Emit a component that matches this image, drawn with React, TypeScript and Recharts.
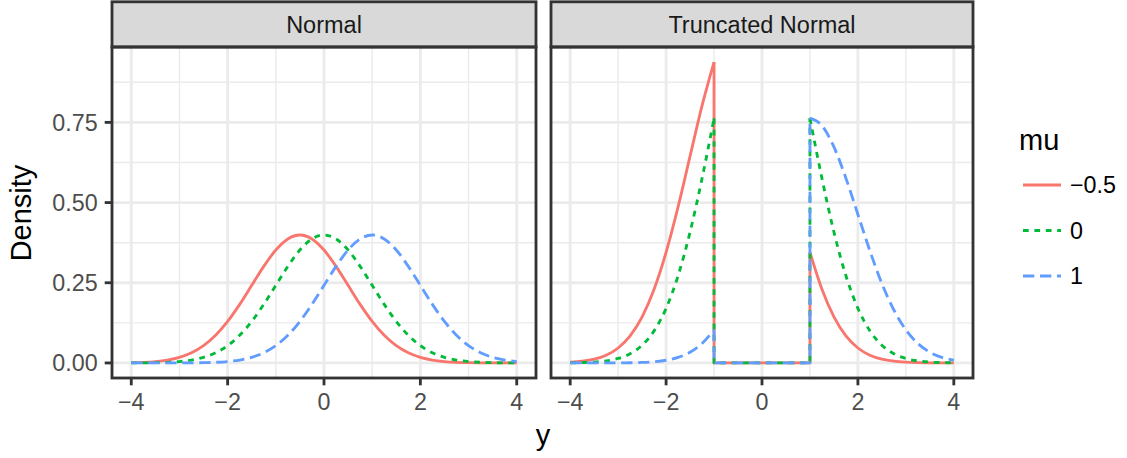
import React from 'react';
import { LineChart, Line, XAxis, YAxis, CartesianGrid } from 'recharts';

const FONT = '"Liberation Sans", Arial, Helvetica, sans-serif';

// ---- categories / labels ----
const muLevels = ['\u22120.5', '0', '1'];
const seriesColors = ['#F8766D', '#00BA38', '#619CFF'];
const seriesDash: (string | undefined)[] = [undefined, '5.7 5.7', '11.3 5.7'];
const facetTitles = ['Normal', 'Truncated Normal'];
const xMajorTicks = [-4, -2, 0, 2, 4];
const xMinorTicks = [-3, -1, 1, 3];
const yMajorTicks = [0, 0.25, 0.5, 0.75];
const yMinorTicks = [0.125, 0.375, 0.625, 0.875];

// ---- Normal panel ----
const xNormal = [-4, -3.75, -3.5, -3.25, -3, -2.75, -2.5, -2.25, -2, -1.75, -1.5, -1.25, -1, -0.75, -0.5, -0.25, 0,
  0.25, 0.5, 0.75, 1, 1.25, 1.5, 1.75, 2, 2.25, 2.5, 2.75, 3, 3.25, 3.5, 3.75, 4];
const normalMuNeg05 = [0.00087, 0.00203, 0.00443, 0.00909, 0.01753, 0.03174, 0.05399, 0.08628, 0.12952, 0.18265,
  0.24197, 0.30114, 0.35207, 0.38667, 0.39894, 0.38667, 0.35207, 0.30114, 0.24197, 0.18265, 0.12952, 0.08628,
  0.05399, 0.03174, 0.01753, 0.00909, 0.00443, 0.00203, 0.00087, 0.00035, 0.00013, 0.00005, 0.00002];
const normalMu0 = [0.00013, 0.00035, 0.00087, 0.00203, 0.00443, 0.00909, 0.01753, 0.03174, 0.05399, 0.08628,
  0.12952, 0.18265, 0.24197, 0.30114, 0.35207, 0.38667, 0.39894, 0.38667, 0.35207, 0.30114, 0.24197, 0.18265,
  0.12952, 0.08628, 0.05399, 0.03174, 0.01753, 0.00909, 0.00443, 0.00203, 0.00087, 0.00035, 0.00013];
const normalMu1 = [0.0, 0.0, 0.00002, 0.00005, 0.00013, 0.00035, 0.00087, 0.00203, 0.00443, 0.00909, 0.01753,
  0.03174, 0.05399, 0.08628, 0.12952, 0.18265, 0.24197, 0.30114, 0.35207, 0.38667, 0.39894, 0.38667, 0.35207,
  0.30114, 0.24197, 0.18265, 0.12952, 0.08628, 0.05399, 0.03174, 0.01753, 0.00909, 0.00443];

// ---- Truncated Normal panel ----
const xLeft = [-4, -3.75, -3.5, -3.25, -3, -2.75, -2.5, -2.25, -2, -1.75, -1.5, -1.25, -1];
const xRight = [1, 1.25, 1.5, 1.75, 2, 2.25, 2.5, 2.75, 3, 3.25, 3.5, 3.75, 4];
const xGap = [-1, -1, 1, 1];
const gapDensity = [0, 0];
const truncLeftNeg05 = [0.00232, 0.00541, 0.0118, 0.02422, 0.0467, 0.08456, 0.14384, 0.22987, 0.34507, 0.48662,
  0.64466, 0.8023, 0.93798];
const truncLeft0 = [0.00041, 0.0011, 0.00274, 0.0064, 0.01396, 0.02865, 0.05525, 0.10003, 0.17015, 0.27191,
  0.40818, 0.57562, 0.76257];
const truncLeft1 = [0.0, 0.00001, 0.00003, 0.0001, 0.00025, 0.00067, 0.00166, 0.00388, 0.00847, 0.01739, 0.03353,
  0.06072, 0.10328];
const truncRightNeg05 = [0.34507, 0.22987, 0.14384, 0.08456, 0.0467, 0.02422, 0.0118, 0.00541, 0.00232, 0.00093,
  0.00035, 0.00013, 0.00004];
const truncRight0 = [0.76257, 0.57562, 0.40818, 0.27191, 0.17015, 0.10003, 0.05525, 0.02865, 0.01396, 0.0064,
  0.00274, 0.0011, 0.00041];
const truncRight1 = [0.76317, 0.7397, 0.67351, 0.57608, 0.46289, 0.34941, 0.24777, 0.16505, 0.10328, 0.06072,
  0.03353, 0.01739, 0.00847];

const toPts = (xs: number[], ys: number[]) => xs.map((x, i) => ({ x, y: ys[i] }));

const normalSeries = [normalMuNeg05, normalMu0, normalMu1].map((ys) => toPts(xNormal, ys));
const truncLeft = [truncLeftNeg05, truncLeft0, truncLeft1];
const truncRight = [truncRightNeg05, truncRight0, truncRight1];
const truncSegments = truncLeft.map((left, k) => [
  { pts: toPts(xLeft, left), curve: 'monotone' },
  { pts: toPts(xGap, [left[left.length - 1], gapDensity[0], gapDensity[1], truncRight[k][0]]), curve: 'linear' },
  { pts: toPts(xRight, truncRight[k]), curve: 'monotone' },
]);

const X_DOMAIN: [number, number] = [-4.4, 4.4];
const Y_DOMAIN: [number, number] = [-0.0469, 0.985];
const LW = 2.83;
const GRID = '#EBEBEB';
const DARK = '#333333';
const TICK_FONT = 23.3;

const fmtX = (v: number) => String(v).replace('-', '\u2212');
const fmtY = (v: number) => v.toFixed(2);

function lineProps(k: number) {
  return {
    dataKey: 'y',
    stroke: seriesColors[k],
    strokeWidth: LW,
    strokeDasharray: seriesDash[k],
    strokeLinejoin: 'round' as const,
    dot: false,
    activeDot: false,
    isAnimationActive: false,
    connectNulls: false,
  };
}

function Axes({ showY }: { showY: boolean }) {
  return null;
}

function Panel({ truncated, width, margin }: { truncated: boolean; width: number; margin: any }) {
  const lines: React.ReactNode[] = [];
  if (!truncated) {
    normalSeries.forEach((pts, k) => {
      lines.push(<Line key={`n${k}`} type="monotone" data={pts} {...lineProps(k)} />);
    });
  } else {
    truncSegments.forEach((segs, k) => {
      segs.forEach((s, j) => {
        lines.push(<Line key={`t${k}-${j}`} type={s.curve as any} data={s.pts} {...lineProps(k)} />);
      });
    });
  }
  return (
    <LineChart width={width} height={458} margin={margin}>
      <CartesianGrid stroke={GRID} strokeWidth={1.42} horizontalValues={yMinorTicks} verticalValues={xMinorTicks} />
      <CartesianGrid stroke={GRID} strokeWidth={LW} horizontalValues={yMajorTicks} verticalValues={xMajorTicks} />
      <XAxis
        type="number"
        dataKey="x"
        domain={X_DOMAIN}
        ticks={xMajorTicks}
        allowDataOverflow
        height={80}
        axisLine={false}
        tickLine={{ stroke: DARK, strokeWidth: LW }}
        tickSize={7.3}
        tickMargin={8}
        tick={{ fill: '#4D4D4D', fontSize: TICK_FONT, fontFamily: FONT }}
        tickFormatter={fmtX}
        interval={0}
      />
      <YAxis
        type="number"
        domain={Y_DOMAIN}
        ticks={yMajorTicks}
        allowDataOverflow
        hide={truncated}
        width={112}
        axisLine={false}
        tickLine={{ stroke: DARK, strokeWidth: LW }}
        tickSize={7.3}
        tickMargin={7}
        tick={{ fill: '#4D4D4D', fontSize: TICK_FONT, fontFamily: FONT }}
        tickFormatter={fmtY}
        interval={0}
      />
      {lines}
    </LineChart>
  );
}

const panelBoxes = [
  { x: 112, w: 424 },
  { x: 551, w: 422 },
];

export default function App() {
  const legendY = [185, 230.5, 276];
  return (
    <div style={{ position: 'absolute', left: 0, top: 0, width: 1127, height: 458, background: '#fff', fontFamily: FONT }}>
      <div style={{ position: 'absolute', left: 0, top: 0 }}>
        <Panel truncated={false} width={545} margin={{ top: 47, right: 9, bottom: 0, left: 0 }} />
      </div>
      <div style={{ position: 'absolute', left: 545, top: 0 }}>
        <Panel truncated={true} width={582} margin={{ top: 47, right: 154, bottom: 0, left: 6 }} />
      </div>
      <svg width={1127} height={458} style={{ position: 'absolute', left: 0, top: 0, pointerEvents: 'none' }}>
        {panelBoxes.map((b, i) => (
          <g key={i}>
            <rect x={b.x} y={1.8} width={b.w} height={45.2} fill="#D9D9D9" stroke={DARK} strokeWidth={LW} />
            <rect x={b.x} y={47} width={b.w} height={331} fill="none" stroke={DARK} strokeWidth={LW} />
            <text x={b.x + b.w / 2} y={33.3} textAnchor="middle" fontSize={23.5} fill="#1A1A1A" fontFamily={FONT}>
              {facetTitles[i]}
            </text>
          </g>
        ))}
        <text x={31} y={213} transform="rotate(-90 31 213)" textAnchor="middle" fontSize={29} fill="#000" fontFamily={FONT}>
          Density
        </text>
        <text x={543} y={445} textAnchor="middle" fontSize={29} fill="#000" fontFamily={FONT}>
          y
        </text>
        <text x={1019} y={149.5} fontSize={29} fill="#000" fontFamily={FONT}>
          mu
        </text>
        {muLevels.map((m, k) => (
          <g key={m}>
            <line x1={1023} x2={1061} y1={legendY[k]} y2={legendY[k]} stroke={seriesColors[k]} strokeWidth={LW}
              strokeDasharray={seriesDash[k]} />
            <text x={1070} y={legendY[k] + 8.3} fontSize={23.3} fill="#000" fontFamily={FONT}>
              {m}
            </text>
          </g>
        ))}
      </svg>
    </div>
  );
}
